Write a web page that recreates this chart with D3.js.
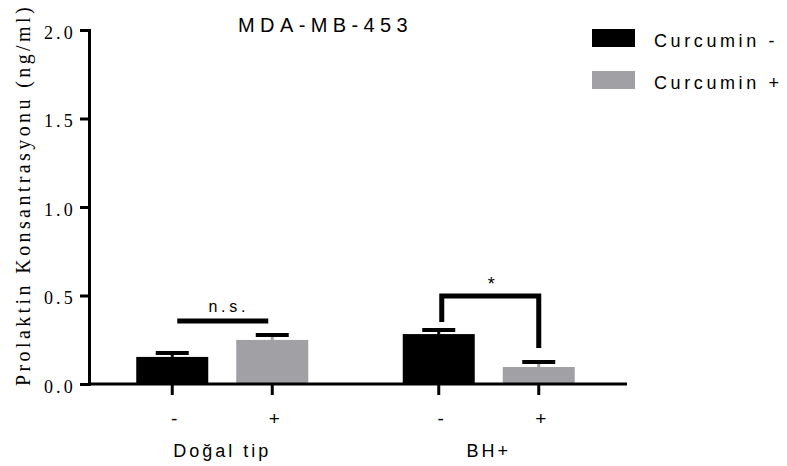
<!DOCTYPE html>
<html>
<head>
<meta charset="utf-8">
<script src="https://cdn.jsdelivr.net/npm/d3@7"></script>
<style>
  body { margin: 0; background: #fff; }
  svg { display: block; }
</style>
</head>
<body>
<div id="vis"></div>
<script>
// data
var groups = ['Doğal tip', 'BH+'];
var treatments = ['-', '+'];
var seriesNames = ['Curcumin -', 'Curcumin +'];
var meanMinus = [0.153, 0.282];   // Curcumin -
var meanPlus = [0.249, 0.096];    // Curcumin +
var semMinus = [0.022, 0.023];
var semPlus = [0.028, 0.028];
var yTicks = [0.0, 0.5, 1.0, 1.5, 2.0];
var colors = ['#000000', '#a1a0a5'];

var width = 787;
var height = 466;
var serif = '"Liberation Serif", "Times New Roman", serif';
var sans = '"Liberation Sans", Arial, sans-serif';

var svg = d3.select('#vis').append('svg')
    .attr('width', width)
    .attr('height', height);

// scales
var y = d3.scaleLinear().domain([0, 2]).range([384, 30]);
var x0 = d3.scaleBand().domain(groups).range([89, 622])
    .paddingInner(0.2).paddingOuter(0.1);
var x1 = d3.scaleBand().domain(treatments).range([0, x0.bandwidth()])
    .paddingInner(0.28).paddingOuter(0.206);

// flatten bars
var bars = [];
groups.forEach(function (g, i) {
    bars.push({ group: g, t: '-', s: 0, v: meanMinus[i], e: semMinus[i] });
    bars.push({ group: g, t: '+', s: 1, v: meanPlus[i], e: semPlus[i] });
});

// bars
svg.selectAll('.bar').data(bars).enter()
    .append('rect')
    .attr('class', 'bar')
    .attr('x', function (d) { return x0(d.group) + x1(d.t); })
    .attr('y', function (d) { return y(d.v); })
    .attr('width', x1.bandwidth())
    .attr('height', function (d) { return y(0) - y(d.v); })
    .attr('fill', function (d) { return colors[d.s]; });

// error bars (upper half only)
var err = svg.selectAll('.err').data(bars).enter().append('g').attr('class', 'err');
err.append('line')
    .attr('x1', function (d) { return x0(d.group) + x1(d.t) + x1.bandwidth() / 2; })
    .attr('x2', function (d) { return x0(d.group) + x1(d.t) + x1.bandwidth() / 2; })
    .attr('y1', function (d) { return y(d.v); })
    .attr('y2', function (d) { return y(d.v + d.e); })
    .attr('stroke', function (d) { return colors[d.s]; })
    .attr('stroke-width', 3);
err.append('line')
    .attr('x1', function (d) { return x0(d.group) + x1(d.t) + x1.bandwidth() / 2 - 16.5; })
    .attr('x2', function (d) { return x0(d.group) + x1(d.t) + x1.bandwidth() / 2 + 16.5; })
    .attr('y1', function (d) { return y(d.v + d.e); })
    .attr('y2', function (d) { return y(d.v + d.e); })
    .attr('stroke', '#000')
    .attr('stroke-width', 4);

// y axis
var yAxis = d3.axisLeft(y).tickValues(yTicks).tickFormat(d3.format('.1f'))
    .tickSize(9).tickSizeOuter(0).tickPadding(4);
var gy = svg.append('g').attr('transform', 'translate(89,0)').call(yAxis);
gy.select('.domain').attr('stroke-width', 3).attr('stroke-linecap', 'square');
gy.selectAll('.tick line').attr('stroke-width', 3);
gy.selectAll('.tick text')
    .attr('dy', '0.45em')
    .style('font-family', serif)
    .style('font-size', '18px')
    .style('letter-spacing', '3.2px')
    .attr('fill', '#000');

// x axis line
svg.append('line')
    .attr('x1', 88).attr('x2', 627)
    .attr('y1', y(0)).attr('y2', y(0))
    .attr('stroke', '#000').attr('stroke-width', 3);

// x ticks per group
groups.forEach(function (g) {
    var gx = svg.append('g')
        .attr('transform', 'translate(' + x0(g) + ',' + y(0) + ')')
        .call(d3.axisBottom(x1).tickSize(11).tickSizeOuter(0).tickPadding(17));
    gx.select('.domain').remove();
    gx.selectAll('.tick line').attr('stroke-width', 3);
    gx.selectAll('.tick text')
        .attr('dx', 2)
        .style('font-family', sans)
        .style('font-size', '19px')
        .attr('fill', '#000');
});

// group labels
svg.selectAll('.group-label').data(groups).enter()
    .append('text')
    .attr('class', 'group-label')
    .attr('x', function (d) { return x0(d) + x0.bandwidth() / 2; })
    .attr('y', 457)
    .attr('text-anchor', 'middle')
    .style('font-family', sans)
    .style('font-size', '18px')
    .style('letter-spacing', '3px')
    .text(function (d) { return d; });

// y axis title
svg.append('text')
    .attr('transform', 'translate(30,195) rotate(-90)')
    .attr('text-anchor', 'middle')
    .style('font-family', serif)
    .style('font-size', '20px')
    .style('letter-spacing', '3.4px')
    .text('Prolaktin Konsantrasyonu (ng/ml)');

// title
svg.append('text')
    .attr('x', 238).attr('y', 32)
    .style('font-family', sans)
    .style('font-size', '20px')
    .style('letter-spacing', '5.4px')
    .text('MDA-MB-453');

// significance: n.s.
var c0 = x0(groups[0]);
var nsLeft = c0 + x1('-') + x1.bandwidth() / 2 + 5;
var nsRight = c0 + x1('+') + x1.bandwidth() / 2 - 4;
svg.append('line')
    .attr('x1', nsLeft).attr('x2', nsRight)
    .attr('y1', 321).attr('y2', 321)
    .attr('stroke', '#000').attr('stroke-width', 5);
svg.append('text')
    .attr('x', (nsLeft + nsRight) / 2 + 6).attr('y', 312)
    .attr('text-anchor', 'middle')
    .style('font-family', sans)
    .style('font-size', '16px')
    .style('letter-spacing', '3.7px')
    .text('n.s.');

// significance: * bracket
var c1 = x0(groups[1]);
var bL = c1 + x1('-') + x1.bandwidth() / 2 + 3;
var bR = c1 + x1('+') + x1.bandwidth() / 2;
svg.append('path')
    .attr('d', 'M' + bL + ',322 V296 H' + bR + ' V348')
    .attr('fill', 'none')
    .attr('stroke', '#000').attr('stroke-width', 5);
svg.append('text')
    .attr('x', (bL + bR) / 2 + 1).attr('y', 290)
    .attr('text-anchor', 'middle')
    .style('font-family', sans)
    .style('font-size', '18px')
    .text('*');

// legend
var legend = svg.selectAll('.legend').data(seriesNames).enter()
    .append('g')
    .attr('class', 'legend')
    .attr('transform', function (d, i) { return 'translate(592,' + (29 + i * 42) + ')'; });
legend.append('rect')
    .attr('width', 43).attr('height', 18)
    .attr('fill', function (d, i) { return colors[i]; });
legend.append('text')
    .attr('x', 62).attr('y', 18)
    .style('font-family', sans)
    .style('font-size', '18px')
    .style('letter-spacing', '3.6px')
    .text(function (d) { return d; });
</script>
</body>
</html>
